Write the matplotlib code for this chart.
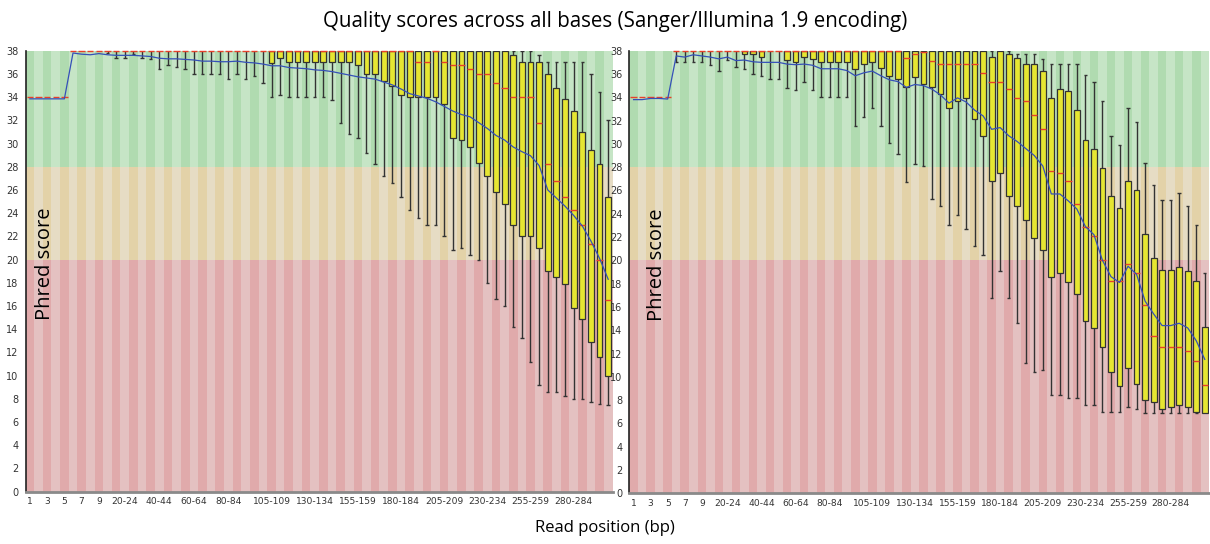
import matplotlib
matplotlib.use("Agg")
import matplotlib.pyplot as plt
import numpy as np

# FastQC style bins: 1..9 then groups of 5 bp
categories = [str(i) for i in range(1, 10)] + ["%d-%d" % (s, s + 4) for s in range(10, 300, 5)] + ["300-301"]
tick_labels = ["1", "3", "5", "7", "9", "20-24", "40-44", "60-64", "80-84", "105-109",
               "130-134", "155-159", "180-184", "205-209", "230-234", "255-259", "280-284"]

# ---- left sample ----
mean_l = [33.85, 33.85, 33.85, 33.85, 33.85,
          37.8, 37.7, 37.65, 37.75, 37.65, 37.6, 37.6, 37.6, 37.55, 37.5,
          37.35, 37.3, 37.3, 37.25, 37.2, 37.1, 37.1, 37.05, 37.05, 37.1,
          37.0, 36.95, 36.85, 36.7, 36.7, 36.55, 36.5, 36.45, 36.35, 36.3,
          36.2, 36.05, 35.9, 35.75, 35.65, 35.55, 35.3, 35.05, 34.7, 34.3,
          34.1, 33.9, 33.6, 33.2, 32.8, 32.5, 32.3, 31.8, 31.3, 30.7,
          30.3, 29.7, 29.3, 28.95, 28.1, 26.0, 25.3, 24.6, 23.8, 22.9,
          21.6, 20.1, 18.3]
median_l = [34, 34, 34, 34, 34,
            38, 38, 38, 38, 38, 38, 38, 38, 38, 38,
            38, 38, 38, 38, 38, 38, 38, 38, 38, 38,
            38, 38, 38, 38, 38, 38, 38, 38, 38, 38,
            38, 38, 38, 38, 38, 38, 38, 38, 38, 38,
            37, 37, 38, 37, 36.8, 36.8, 36.4, 36, 36, 35.2,
            34.8, 34, 34, 34, 31.8, 28.2, 26.8, 25.4, 24.3, 23.0,
            21.3, 20.0, 16.5]
q3_l = [34, 34, 34, 34, 34,
        38, 38, 38, 38, 38, 38, 38, 38, 38, 38,
        38, 38, 38, 38, 38, 38, 38, 38, 38, 38,
        38, 38, 38, 38, 38, 38, 38, 38, 38, 38,
        38, 38, 38, 38, 38, 38, 38, 38, 38, 38,
        38, 38, 38, 38, 38, 38, 38, 38, 38, 38,
        38, 37.6, 37, 37, 37, 36, 34.8, 33.8, 32.8, 31.0,
        29.4, 28.2, 25.4]
q1_l = [34, 34, 34, 34, 34,
        38, 38, 38, 38, 38, 38, 38, 38, 38, 38,
        38, 38, 38, 38, 38, 38, 38, 38, 38, 38,
        38, 38, 38, 36.95, 37.4, 37, 37, 37, 37, 37,
        37, 37, 37, 36.8, 36, 36, 35.4, 35.0, 34.2, 34,
        34, 34, 34, 33.4, 30.5, 30.3, 29.7, 28.3, 27.2, 25.8,
        24.8, 23.0, 22.0, 22.0, 21.0, 19.0, 18.5, 17.9, 15.8, 14.9,
        12.9, 11.6, 10.0]
p10_l = [34, 34, 34, 34, 34,
         38, 38, 38, 38, 37.8, 37.4, 37.4, 37.7, 37.4, 37.25,
         36.4, 36.8, 36.6, 36.4, 36.0, 36, 36, 36, 35.6, 36.0,
         35.6, 35.85, 35.2, 34, 34.2, 34, 34, 34, 34, 34,
         33.75, 31.8, 30.8, 30.5, 29.2, 28.2, 27.2, 26.6, 25.4, 24.3,
         23.6, 23.0, 23.0, 22.0, 20.8, 21.0, 20.4, 20.0, 17.95, 16.6,
         16.0, 14.2, 13.2, 11.2, 9.2, 8.55, 8.55, 8.2, 7.95, 7.95,
         7.75, 7.55, 7.45]
p90_l = [34, 34, 34, 34, 34,
         38, 38, 38, 38, 38, 38, 38, 38, 38, 38,
         38, 38, 38, 38, 38, 38, 38, 38, 38, 38,
         38, 38, 38, 38, 38, 38, 38, 38, 38, 38,
         38, 38, 38, 38, 38, 38, 38, 38, 38, 38,
         38, 38, 38, 38, 38, 38, 38, 38, 38, 38,
         38, 38, 38, 38, 37.6, 37, 37, 37, 37, 37,
         36, 34.4, 32.0]

# ---- right sample ----
mean_r = [33.8, 33.8, 33.9, 33.9, 33.85,
          37.55, 37.45, 37.65, 37.55, 37.45, 37.3, 37.45, 37.15, 37.2, 37.05,
          37.0, 37.0, 37.0, 36.85, 36.8, 36.85, 36.75, 36.45, 36.45, 36.45,
          36.3, 35.85, 36.1, 36.25, 35.85, 35.5, 35.35, 34.85, 35.1, 35.0,
          34.7, 34.2, 33.5, 33.95, 33.6, 32.9, 32.4, 31.25, 31.4, 30.7,
          30.2, 29.6, 29.0, 28.1, 25.7, 25.7, 25.1, 24.4, 22.9, 22.2,
          20.0, 18.6, 18.1, 19.5, 18.8, 16.5, 15.4, 14.4, 14.4, 14.6,
          14.2, 13.1, 11.5]
median_r = [34, 34, 34, 34, 34,
            38, 38, 38, 38, 38, 38, 38, 38, 38, 38,
            38, 38, 38, 38, 38, 38, 38, 38, 38, 38,
            38, 38, 38, 38, 38, 38, 38, 37.35, 37.7, 37.9,
            37.1, 36.9, 36.9, 36.9, 36.9, 36.9, 36.1, 35.3, 35.3, 34.7,
            33.9, 33.7, 32.5, 31.3, 27.7, 27.5, 26.8, 24.8, 22.9, 22.1,
            20.0, 18.2, 18.2, 19.7, 18.9, 16.2, 13.5, 12.6, 12.6, 12.6,
            12.2, 11.4, 9.3]
q3_r = [34, 34, 34, 34, 34,
        38, 38, 38, 38, 38, 38, 38, 38, 38, 38,
        38, 38, 38, 38, 38, 38, 38, 38, 38, 38,
        38, 38, 38, 38, 38, 38, 38, 38, 38, 38,
        38, 38, 38, 38, 38, 38, 38, 37.5, 38, 37.7,
        37.35, 36.9, 36.9, 36.3, 33.9, 34.7, 34.5, 32.9, 30.3, 29.6,
        27.9, 25.5, 24.5, 26.8, 26.0, 22.3, 20.2, 19.2, 19.2, 19.4,
        19.1, 18.2, 14.3]
q1_r = [34, 34, 34, 34, 34,
        38, 38, 38, 38, 38, 38, 38, 38, 37.75, 37.75,
        37.5, 38, 38, 37.2, 37.0, 37.5, 37.3, 37, 37, 37,
        37, 36.45, 36.85, 37, 36.5, 35.8, 35.6, 34.9, 35.7, 35.1,
        34.9, 34.3, 33.1, 33.7, 33.9, 32.1, 30.7, 26.8, 27.5, 25.5,
        24.7, 23.5, 21.9, 20.9, 18.6, 18.9, 18.1, 17.1, 14.8, 14.2,
        12.6, 10.4, 9.2, 10.8, 9.4, 8.0, 7.8, 7.2, 7.4, 7.6,
        7.4, 7.0, 6.9]
p10_r = [34, 34, 34, 34, 34,
         37, 37, 37, 37, 36.8, 36.25, 37.2, 36.6, 36.45, 36.0,
         35.8, 35.6, 35.6, 34.8, 34.6, 35.35, 34.6, 34, 34, 34,
         34, 31.5, 32.3, 33.1, 31.5, 30.1, 29.1, 26.7, 28.3, 28.1,
         25.3, 24.7, 23.0, 23.9, 22.7, 21.2, 20.5, 16.8, 19.1, 16.8,
         14.6, 11.2, 10.4, 10.6, 8.4, 8.4, 8.2, 8.2, 7.6, 7.6,
         7.0, 7.0, 7.0, 7.4, 7.2, 6.9, 6.9, 6.9, 6.9, 6.9,
         6.9, 6.9, 6.9]
p90_r = [34, 34, 34, 34, 34,
         38, 38, 38, 38, 38, 38, 38, 38, 38, 38,
         38, 38, 38, 38, 38, 38, 38, 38, 38, 38,
         38, 38, 38, 38, 38, 38, 38, 38, 38, 38,
         38, 38, 38, 38, 38, 38, 38, 38, 38, 38,
         37.7, 37.7, 37.7, 37.3, 36.9, 36.9, 36.9, 36.9, 35.9, 35.3,
         33.7, 30.7, 29.9, 33.1, 31.9, 28.4, 26.5, 25.2, 25.2, 25.8,
         24.7, 23.0, 18.9]

# background bands: (bottom, top, even colour, odd colour)
bands = [(0, 20, "#e0aaab", "#e4c1c1"),
         (20, 28, "#e3d2a8", "#e6dcc4"),
         (28, 38, "#b0dbb0", "#c6e5c6")]


def draw_panel(ax, mean, median, q1, q3, p10, p90, label_x):
    x = np.arange(len(categories))
    mean, median = np.array(mean), np.array(median)
    q1, q3, p10, p90 = np.array(q1), np.array(q3), np.array(p10), np.array(p90)

    # striped background
    for lo, hi, c_even, c_odd in bands:
        cols = [c_even if i % 2 == 0 else c_odd for i in x]
        ax.bar(x, hi - lo, bottom=lo, width=1.0, color=cols, linewidth=0, zorder=0)

    # whiskers
    for i in x:
        if p90[i] > q3[i]:
            ax.vlines(i, q3[i], p90[i], color="#333333", lw=1, zorder=2)
            ax.hlines(p90[i], i - 0.2, i + 0.2, color="#333333", lw=1, zorder=2)
        if p10[i] < q1[i]:
            ax.vlines(i, p10[i], q1[i], color="#333333", lw=1, zorder=2)
            ax.hlines(p10[i], i - 0.2, i + 0.2, color="#333333", lw=1, zorder=2)

    # boxes
    m = (q3 - q1) > 0
    ax.bar(x[m], (q3 - q1)[m], bottom=q1[m], width=0.68, color="#e6e632",
           edgecolor="#333333", linewidth=0.9, zorder=3)

    # medians and mean
    ax.hlines(median, x - 0.37, x + 0.37, color="#e8402a", lw=1, zorder=4, clip_on=False)
    ax.plot(x, mean, color="#3550b8", lw=0.9, zorder=5)

    ax.set_xlim(-0.5, len(categories) - 0.5)
    ax.set_ylim(0, 38)
    ax.set_yticks(range(0, 39, 2))
    ax.set_xticks([categories.index(t) for t in tick_labels])
    ax.set_xticklabels(tick_labels)
    ax.tick_params(axis="both", length=0, colors="#333333")
    ax.tick_params(axis="y", pad=5, labelsize=7)
    ax.tick_params(axis="x", pad=4, labelsize=6.6)
    for s in ["top", "right"]:
        ax.spines[s].set_visible(False)
    ax.spines["left"].set_color("#222222")
    ax.spines["left"].set_linewidth(1.2)
    ax.spines["bottom"].set_color("#8a8a8a")
    ax.spines["bottom"].set_linewidth(2)
    ax.text(label_x, 0.517, "Phred score", rotation=90, transform=ax.transAxes,
            ha="center", va="center", fontsize=14.5, family="Open Sans")


fig = plt.figure(figsize=(12.1, 5.44), dpi=100)
ax1 = fig.add_axes([0.0211, 0.0963, 0.4851, 0.8105])
ax2 = fig.add_axes([0.5201, 0.0932, 0.4791, 0.8136])
draw_panel(ax1, mean_l, median_l, q1_l, q3_l, p10_l, p90_l, 0.033)
draw_panel(ax2, mean_r, median_r, q1_r, q3_r, p10_r, p90_r, 0.048)

fig.text(615 / 1210, 1 - 21 / 544, "Quality scores across all bases (Sanger/Illumina 1.9 encoding)",
         ha="center", va="center", fontsize=14.8, family="Open Sans")
fig.text(605 / 1210, 1 - 528 / 544, "Read position (bp)",
         ha="center", va="center", fontsize=12, family="Open Sans")

fig.savefig("out.png", dpi=100)
